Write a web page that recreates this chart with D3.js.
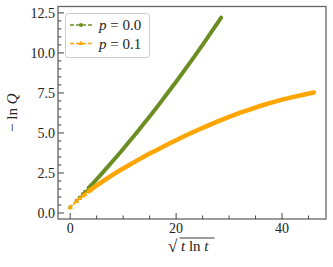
<!DOCTYPE html>
<html><head><meta charset="utf-8">
<script src="https://cdn.jsdelivr.net/npm/d3@7"></script>
<style>body{margin:0;background:#fff}svg{display:block}</style>
</head><body><div id="c"></div>
<script>
const xGreen = [0,1.2,1.8,2.4,2.8,3.5,4,5,6,7,8,9,10,11,12,13,14,15,16,17,18,19,20,21,22,23,24,25,26,27,28,28.5];
const yGreen = [0.35,0.76,0.97,1.18,1.32,1.57,1.74,2.11,2.48,2.85,3.23,3.61,4.00,4.40,4.80,5.20,5.62,6.03,6.45,6.88,7.32,7.76,8.20,8.65,9.11,9.57,10.03,10.50,10.98,11.47,11.95,12.20];
const xOrange = [0,1.2,1.8,2.4,2.8,3.5,4,5,6,7,8,9,10,11,12,13,14,15,16,17,18,19,20,22,24,26,28,30,32,34,36,38,40,42,44,46];
const yOrange = [0.35,0.72,0.9,1.07,1.18,1.36,1.48,1.72,1.95,2.17,2.38,2.58,2.78,2.97,3.16,3.35,3.53,3.71,3.88,4.05,4.22,4.39,4.55,4.87,5.17,5.46,5.74,6.0,6.25,6.48,6.7,6.9,7.08,7.24,7.39,7.53];
const xTicks = [0,20,40];
const yTicks = [0,2.5,5,7.5,10,12.5];
const seriesLabels = ["0.0","0.1"];

const FONT="'Liberation Serif','Times New Roman',Times,serif";
const W=333,H=267, L=58,R=326,T=6.5,B=219;
const svg=d3.select("#c").append("svg").attr("width",W).attr("height",H)
  .attr("font-family",FONT).style("font-family",FONT);
const x=d3.scaleLinear().domain([-2.3,48.3]).range([L,R]);
const y=d3.scaleLinear().domain([-0.375,12.9]).range([B,T]);

const series=[
 {xs:xGreen,ys:yGreen,color:"#6b8e23",marker:"circle",label:seriesLabels[0]},
 {xs:xOrange,ys:yOrange,color:"#ffa500",marker:"tri",label:seriesLabels[1]}
];
const line=d3.line().x(d=>x(d[0])).y(d=>y(d[1]));
const tri=d3.symbol().type(d3.symbolTriangle).size(12);
function marker(g,s,cx,cy){
  if(s.marker==="circle") g.append("circle").attr("cx",cx).attr("cy",cy).attr("r",2).attr("fill",s.color);
  else g.append("path").attr("d",tri).attr("transform",`translate(${cx},${cy})`).attr("fill",s.color);
}
const plot=svg.append("g");
series.forEach(s=>{
  const pts=s.xs.map((v,i)=>[v,s.ys[i]]);
  const fromIdx=pts.findIndex(p=>p[0]>=3.5);
  plot.append("path").datum(pts.slice(fromIdx)).attr("d",line).attr("fill","none")
    .attr("stroke",s.color).attr("stroke-width",s.marker==="circle"?4:4.5).attr("stroke-linecap","round");
  plot.append("path").datum(pts.slice(0,fromIdx+1)).attr("d",line).attr("fill","none")
    .attr("stroke",s.color).attr("stroke-width",1.5).attr("stroke-dasharray","3,1.5");
  pts.filter(p=>p[0]<5).forEach(p=>marker(plot,s,x(p[0]),y(p[1])));
});

// spines
svg.append("rect").attr("x",L).attr("y",T).attr("width",R-L).attr("height",B-T)
  .attr("fill","none").attr("stroke","#666").attr("stroke-width",1.3);

// ticks (inward)
const tk=svg.append("g").attr("stroke","#444").attr("stroke-width",1);
d3.range(0,46,5).forEach(v=>{
  const major=xTicks.includes(v);
  tk.append("line").attr("x1",x(v)).attr("x2",x(v)).attr("y1",B).attr("y2",B-(major?6:3.5));
});
d3.range(0,12.51,0.5).forEach(v=>{
  const major=yTicks.some(t=>Math.abs(t-v)<1e-6);
  tk.append("line").attr("y1",y(v)).attr("y2",y(v)).attr("x1",L).attr("x2",L+(major?6:3.5));
});
xTicks.forEach(v=>svg.append("text").attr("x",x(v)).attr("y",B+14).attr("text-anchor","middle")
  .attr("font-size",14).attr("fill","#222").text(v));
yTicks.forEach(v=>svg.append("text").attr("x",L-3).attr("y",y(v)+5).attr("text-anchor","end")
  .attr("font-size",14).attr("fill","#222").text(v.toFixed(1)));

// axis labels
const xl=svg.append("g").attr("transform",`translate(${(L+R)/2},251)`);
xl.append("text").attr("x",-24).attr("y",1).attr("font-size",17).attr("fill","#222").text("√");
xl.append("line").attr("x1",-12.5).attr("x2",22.5).attr("y1",-13).attr("y2",-13).attr("stroke","#222").attr("stroke-width",0.9);
const xt=xl.append("text").attr("x",-11).attr("y",0).attr("font-size",15).attr("fill","#222");
xt.append("tspan").attr("font-style","italic").text("t");
xt.append("tspan").text(" ln ");
xt.append("tspan").attr("font-style","italic").text("t");

const yl=svg.append("text").attr("transform",`translate(17,${(T+B)/2}) rotate(-90)`).attr("text-anchor","middle")
  .attr("font-size",15).attr("fill","#222");
yl.append("tspan").text("− ln ");
yl.append("tspan").attr("font-style","italic").text("Q");

// legend
const lg=svg.append("g");
lg.append("rect").attr("x",65.5).attr("y",13.5).attr("width",84).attr("height",44).attr("rx",3)
  .attr("fill","#fff").attr("fill-opacity",0.85).attr("stroke","#ccc").attr("stroke-width",1);
series.forEach((s,i)=>{
  const cy=25+i*18.5;
  lg.append("line").attr("x1",70).attr("x2",92).attr("y1",cy).attr("y2",cy)
    .attr("stroke",s.color).attr("stroke-width",1.5).attr("stroke-dasharray","4,2");
  marker(lg,s,81,cy);
  const t=lg.append("text").attr("x",99).attr("y",cy+5).attr("font-size",15).attr("fill","#222");
  t.append("tspan").attr("font-style","italic").text("p");
  t.append("tspan").text(" = "+s.label);
});
</script></body></html>
